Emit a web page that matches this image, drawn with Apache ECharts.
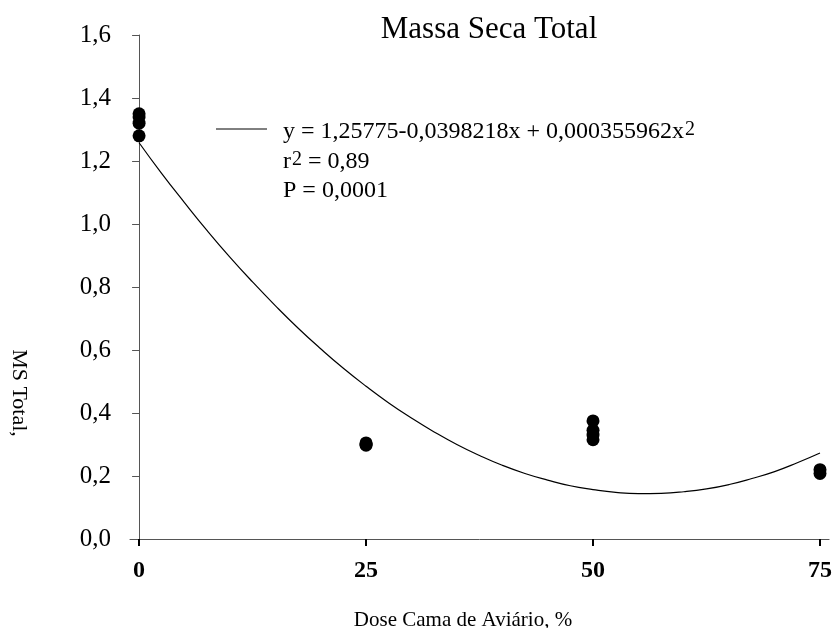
<!DOCTYPE html>
<html><head><meta charset="utf-8">
<script src="https://cdn.jsdelivr.net/npm/echarts@6/dist/echarts.min.js"></script>
<style>html,body{margin:0;padding:0;background:#fff}#c{width:835px;height:628px}</style>
</head><body><div id="c"></div>
<script>
const obsDose = [0, 0, 0, 0, 25, 25, 25, 50, 50, 50, 50, 75, 75];
const obsMS   = [1.35, 1.34, 1.32, 1.28, 0.30, 0.305, 0.298, 0.375, 0.345, 0.33, 0.315, 0.22, 0.208];
// Fitted curve
const curveDose = [0, 2.5, 5, 7.5, 10, 12.5, 15, 17.5, 20, 22.5, 25, 27.5, 30, 32.5, 35, 37.5, 40, 42.5, 45, 47.5, 50, 52.5, 55, 57.5, 60, 62.5, 65, 67.5, 70, 72.5, 75];
const curveMS   = [1.258, 1.160, 1.068, 0.979, 0.895, 0.816, 0.741, 0.670, 0.604, 0.542, 0.485, 0.432, 0.384, 0.340, 0.300, 0.265, 0.234, 0.208, 0.187, 0.169, 0.157, 0.148, 0.144, 0.145, 0.150, 0.159, 0.173, 0.192, 0.214, 0.242, 0.273];
const xTickValues = [0, 25, 50, 75];
const titleText = 'Massa Seca Total';
const xName = 'Dose Cama de Aviário, %';
const yName = 'MS Total,';
const eqLine = 'y = 1,25775-0,0398218x + 0,000355962x';
const r2Value = ' = 0,89';
const pLine = 'P = 0,0001';

const FONT = "'Liberation Serif', 'Times New Roman', serif";
const chart = echarts.init(document.getElementById('c'), null, {renderer: 'canvas'});
const richStyles = {
  n: {fontFamily: FONT, fontSize: 24, color: '#000'},
  s: {fontFamily: FONT, fontSize: 20, color: '#000', verticalAlign: 'top', padding: [0, 0, 3, 1]}
};
chart.setOption({
  animation: false,
  backgroundColor: '#fff',
  grid: {left: 130, right: 5, top: 35, bottom: 89, containLabel: false},
  xAxis: {
    type: 'value', min: -1, max: 76,
    splitLine: {show: false},
    axisLine: {onZero: false, lineStyle: {color: '#555', width: 1}},
    axisTick: {customValues: xTickValues, length: 7, lineStyle: {color: '#000', width: 2}},
    axisLabel: {customValues: xTickValues, margin: 20, fontFamily: FONT, fontSize: 24, fontWeight: 'bold', color: '#000'}
  },
  yAxis: {
    type: 'value', min: 0, max: 1.6, interval: 0.2,
    splitLine: {show: false},
    axisLine: {show: true, lineStyle: {color: '#555', width: 1}},
    axisTick: {show: true, length: 7, lineStyle: {color: '#555', width: 1}},
    axisLabel: {margin: 19, fontFamily: FONT, fontSize: 25, color: '#000',
      formatter: v => v.toFixed(1).replace('.', ',')}
  },
  series: [
    {
      type: 'line', smooth: true, showSymbol: false, silent: true,
      data: curveDose.map((d, i) => [d, curveMS[i]]),
      lineStyle: {color: '#000', width: 1.2}, z: 2
    },
    {
      type: 'scatter', symbol: 'circle', symbolSize: 13,
      data: obsDose.map((d, i) => [d, obsMS[i]]),
      itemStyle: {color: '#000', opacity: 1}, z: 3
    }
  ],
  graphic: [
    {type: 'text', x: 489, y: 30, style: {text: titleText, font: '31px ' + FONT, fill: '#000', textAlign: 'center', textVerticalAlign: 'middle'}},
    {type: 'text', x: 463, y: 620, style: {text: xName, font: '21px ' + FONT, fill: '#000', textAlign: 'center', textVerticalAlign: 'middle'}},
    {type: 'text', x: 19, y: 393, rotation: -Math.PI / 2, style: {text: yName, font: '22px ' + FONT, fill: '#000', textAlign: 'center', textVerticalAlign: 'middle'}},
    {type: 'line', shape: {x1: 216, y1: 129, x2: 267, y2: 129}, style: {stroke: '#000', lineWidth: 1}},
    {type: 'text', x: 283, y: 132, style: {
      text: '{n|' + eqLine + '}{s|2}', textVerticalAlign: 'middle', fill: '#000', rich: richStyles
    }},
    {type: 'text', x: 283, y: 162, style: {
      text: '{n|r}{s|2}{n|' + r2Value + '}', textVerticalAlign: 'middle', fill: '#000', rich: richStyles
    }},
    {type: 'text', x: 283, y: 191, style: {text: pLine, font: '24px ' + FONT, fill: '#000', textVerticalAlign: 'middle'}}
  ]
});
</script>
</body></html>
